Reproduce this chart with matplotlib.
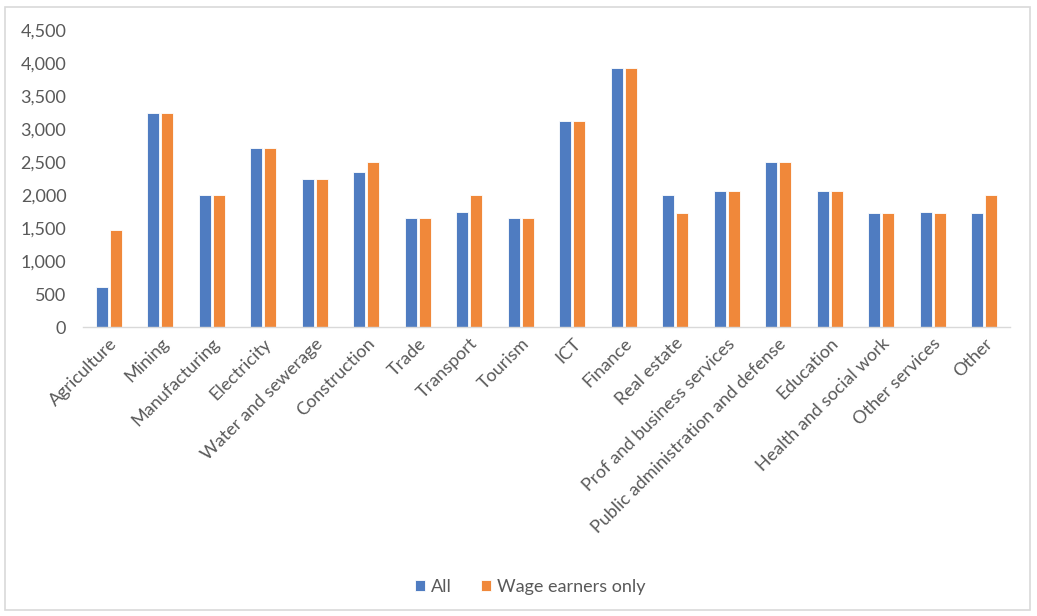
import matplotlib
matplotlib.use("Agg")
import matplotlib.pyplot as plt
import numpy as np
from matplotlib.patches import Rectangle

categories = ["Agriculture", "Mining", "Manufacturing", "Electricity", "Water and sewerage",
              "Construction", "Trade", "Transport", "Tourism", "ICT", "Finance", "Real estate",
              "Prof and business services", "Public administration and defense", "Education",
              "Health and social work", "Other services", "Other"]
all_vals = [605, 3245, 1995, 2712, 2238, 2355, 1658, 1743, 1658, 3117, 3925, 1995,
            2062, 2497, 2062, 1723, 1743, 1723]
wage_vals = [1465, 3245, 1995, 2712, 2238, 2500, 1658, 1995, 1658, 3117, 3925, 1723,
             2062, 2497, 2062, 1723, 1723, 1995]
series_names = ["All", "Wage earners only"]
yticks = [0, 500, 1000, 1500, 2000, 2500, 3000, 3500, 4000, 4500]

blue = "#4F7CC1"
orange = "#F0883A"
text_color = "#595959"

plt.rcParams['font.family'] = ['Lato', 'DejaVu Sans']

fig = plt.figure(figsize=(10.37, 6.16), dpi=100)
W, H = 1037, 616
x0, x1 = 83, 1010
ytop, ybase = 30, 327
ax = fig.add_axes([x0 / W, 1 - ybase / H, (x1 - x0) / W, (ybase - ytop) / H])

x = np.arange(len(categories))
bw = 0.235
off = 0.137
ax.bar(x - off, all_vals, width=bw, color=blue, edgecolor="white", linewidth=0.6, label=series_names[0])
ax.bar(x + off, wage_vals, width=bw, color=orange, edgecolor="white", linewidth=0.6, label=series_names[1])

ax.set_xlim(-0.5, len(categories) - 0.5)
ax.set_ylim(0, 4500)
ax.set_yticks(yticks)
ax.set_yticklabels([f"{v:,}" for v in yticks], fontsize=13, color=text_color)
ax.set_xticks(x)
ax.set_xticklabels(categories, rotation=45, ha="right", rotation_mode="anchor",
                   fontsize=13, color=text_color)
ax.tick_params(axis="y", length=0, pad=12)
ax.tick_params(axis="x", length=0, pad=6)
for s in ["top", "right", "left"]:
    ax.spines[s].set_visible(False)
ax.spines["bottom"].set_color("#D9D9D9")
ax.spines["bottom"].set_linewidth(1)

leg = fig.legend(loc="center", bbox_to_anchor=(530 / W, 1 - 587 / H), ncol=2, frameon=False,
                 fontsize=13, handlelength=0.55, handleheight=0.55, handletextpad=0.35,
                 columnspacing=1.6, labelcolor=text_color)

fig.patches.append(Rectangle((5 / W, 6 / H), 1025 / W, 603 / H, transform=fig.transFigure,
                             fill=False, edgecolor="#D9D9D9", linewidth=1.2))

fig.savefig("out.png", dpi=100)
